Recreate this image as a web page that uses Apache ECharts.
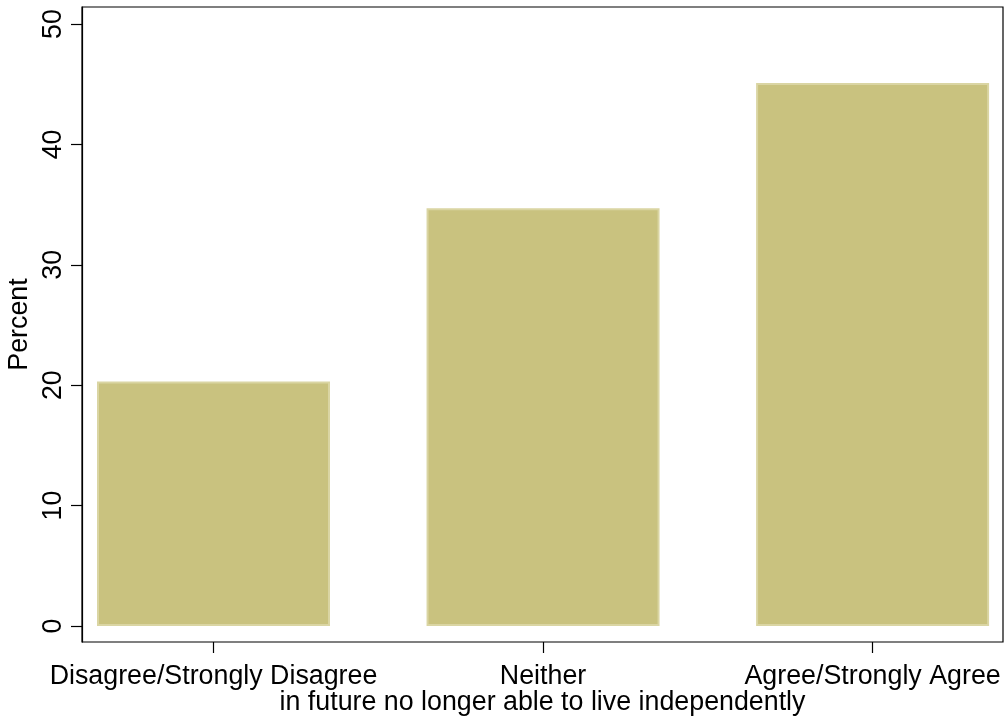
<!DOCTYPE html>
<html>
<head>
<meta charset="utf-8">
<script src="https://cdn.jsdelivr.net/npm/echarts@6/dist/echarts.min.js"></script>
<style>html,body{margin:0;padding:0;background:#fff;}#c{width:1008px;height:721px;}</style>
</head>
<body>
<div id="c"></div>
<script>
const categories = ['Disagree/Strongly Disagree', 'Neither', 'Agree/Strongly Agree'];
const percentValues = [20.3, 34.7, 45.1];
const yTickValues = [0, 10, 20, 30, 40, 50];
const xAxisTitle = 'in future no longer able to live independently';
const yAxisTitle = 'Percent';

const FONT = '"Liberation Sans", Arial, Helvetica, sans-serif';
const yMin = -1.33, yMax = 51.41;

const chart = echarts.init(document.getElementById('c'), null, {renderer: 'canvas'});
chart.setOption({
  animation: false,
  backgroundColor: '#ffffff',
  textStyle: {fontFamily: FONT},
  grid: [
    {left: 82, right: 5, top: 7, bottom: 79, show: true, borderColor: '#000', borderWidth: 1.2, backgroundColor: 'transparent', containLabel: false, outerBoundsMode: 'none'},
    {left: 213.5, right: 135.4, top: 7, bottom: 79, containLabel: false, outerBoundsMode: 'none'}
  ],
  xAxis: [
    {
      gridIndex: 0, type: 'value', min: 0, max: 1, position: 'bottom',
      axisLine: {show: false, onZero: false}, axisTick: {show: false}, axisLabel: {show: false}, splitLine: {show: false},
      name: xAxisTitle, nameLocation: 'middle', nameGap: 47, nameMoveOverlap: false,
      nameTextStyle: {fontFamily: FONT, fontSize: 26.8, color: '#000'}
    },
    {
      gridIndex: 1, type: 'category', data: categories, boundaryGap: false, position: 'bottom',
      axisLine: {show: false, onZero: false},
      axisTick: {show: true, inside: false, length: 11, lineStyle: {color: '#000', width: 1.2}},
      axisLabel: {show: true, margin: 21, fontFamily: FONT, fontSize: 26.8, color: '#000', interval: 0},
      splitLine: {show: false}
    }
  ],
  yAxis: [
    {
      gridIndex: 0, type: 'value', min: yMin, max: yMax,
      axisLine: {show: true, onZero: false, lineStyle: {color: '#000', width: 1.2}},
      axisTick: {show: true, length: 11, customValues: yTickValues, lineStyle: {color: '#000', width: 1.2}},
      axisLabel: {show: true, customValues: yTickValues, rotate: 90, margin: 15, fontFamily: FONT, fontSize: 26.8, color: '#000'},
      splitLine: {show: false},
      name: yAxisTitle, nameLocation: 'middle', nameGap: 49, nameRotate: 90, nameMoveOverlap: false,
      nameTextStyle: {fontFamily: FONT, fontSize: 26.8, color: '#000'}
    },
    {
      gridIndex: 1, type: 'value', min: yMin, max: yMax, show: false, splitLine: {show: false}
    }
  ],
  series: [{
    type: 'bar',
    xAxisIndex: 1, yAxisIndex: 1,
    data: percentValues,
    barWidth: 233,
    itemStyle: {color: '#C9C27F', borderColor: '#DAD5A3', borderWidth: 2}
  }]
});
</script>
</body>
</html>
